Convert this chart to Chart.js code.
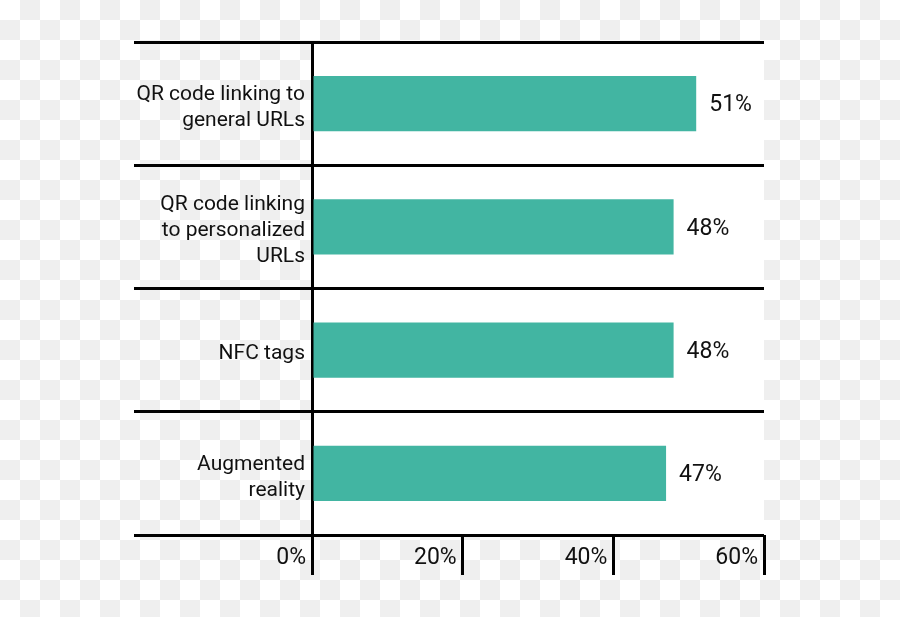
<!DOCTYPE html>
<html>
<head>
<meta charset="utf-8">
<script src="https://cdn.jsdelivr.net/npm/chart.js@4"></script>
<style>
  html, body { margin: 0; padding: 0; }
  body {
    width: 900px; height: 617px; overflow: hidden;
    background-color: #fff;
    background-image: conic-gradient(#efefef 0 25%, #fff 0 50%, #efefef 0 75%, #fff 0);
    background-size: 40px 40px;
  }
  canvas { display: block; }
</style>
</head>
<body>
<canvas id="chart" width="900" height="617"></canvas>
<script>
var categories = [
    ['QR code linking to', 'general URLs'],
    ['QR code linking', 'to personalized', 'URLs'],
    'NFC tags',
    ['Augmented', 'reality']
];
var shares = [51, 48, 48, 47];
var tickValues = [0, 20, 40, 60];

var fontFamily = 'Roboto, "DejaVu Sans", sans-serif';

// white plot area over the checkerboard
var plotBackground = {
    id: 'plotBackground',
    beforeDraw: function (chart) {
        var a = chart.chartArea;
        var ctx = chart.ctx;
        ctx.save();
        ctx.fillStyle = '#ffffff';
        ctx.fillRect(a.left, a.top, a.right - a.left, a.bottom - a.top);
        ctx.restore();
    }
};

// value labels to the right of each bar
var valueLabels = {
    id: 'valueLabels',
    afterDatasetsDraw: function (chart) {
        var ctx = chart.ctx;
        var meta = chart.getDatasetMeta(0);
        ctx.save();
        ctx.font = '23px ' + fontFamily;
        ctx.fillStyle = '#111';
        ctx.textAlign = 'left';
        ctx.textBaseline = 'middle';
        meta.data.forEach(function (bar, i) {
            ctx.fillText(shares[i] + '%', bar.x + 13, bar.y + 2);
        });
        ctx.restore();
    }
};

var ctx = document.getElementById('chart').getContext('2d');
var chart = new Chart(ctx, {
    type: 'bar',
    data: {
        labels: categories,
        datasets: [{
            data: shares,
            backgroundColor: '#42b5a2',
            borderWidth: 0,
            barPercentage: 0.45,
            categoryPercentage: 1
        }]
    },
    plugins: [plotBackground, valueLabels],
    options: {
        indexAxis: 'y',
        responsive: false,
        animation: false,
        layout: { padding: { left: 134, right: 136, top: 42, bottom: 42 } },
        plugins: {
            legend: { display: false },
            tooltip: { enabled: false }
        },
        scales: {
            x: {
                min: 0,
                max: 60,
                afterBuildTicks: function (scale) {
                    scale.ticks = tickValues.map(function (v) { return { value: v }; });
                },
                afterFit: function (scale) { scale.height = 40; },
                border: { display: false },
                grid: {
                    drawOnChartArea: false,
                    drawTicks: true,
                    tickLength: 40,
                    color: '#000',
                    lineWidth: 3
                },
                ticks: {
                    align: 'end',
                    padding: -31,
                    labelOffset: -6,
                    color: '#111',
                    font: { family: fontFamily, size: 23 },
                    callback: function (v) { return v + '%'; }
                }
            },
            y: {
                afterFit: function (scale) { scale.width = 178; },
                border: { display: true, color: '#000', width: 3 },
                grid: {
                    offset: true,
                    color: '#000',
                    lineWidth: 3,
                    tickLength: 178
                },
                ticks: {
                    crossAlign: 'near',
                    padding: -171,
                    labelOffset: 4,
                    color: '#111',
                    font: { family: fontFamily, size: 21, lineHeight: 1.25 }
                }
            }
        }
    }
});
</script>
</body>
</html>
